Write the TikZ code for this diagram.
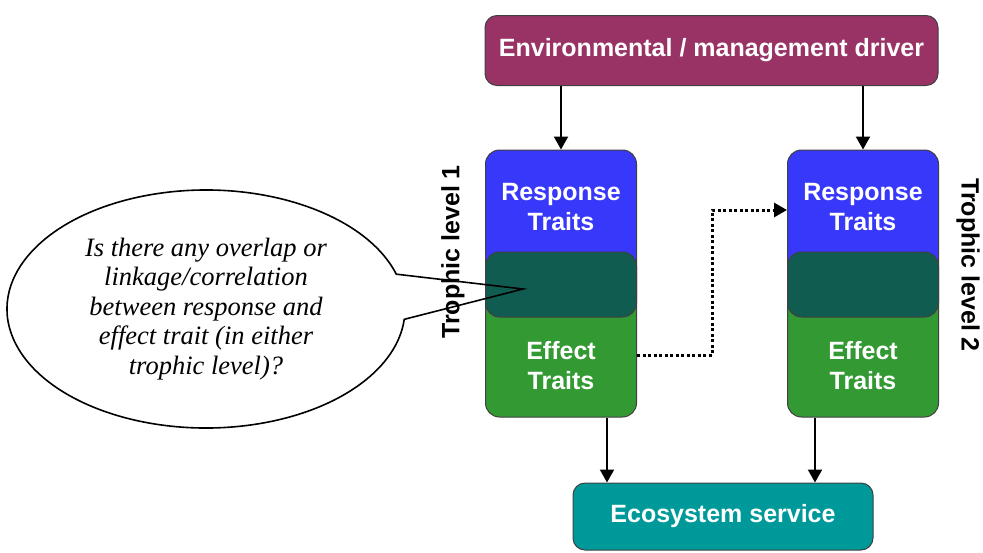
\documentclass[tikz,border=0pt]{standalone}
\usepackage{fontspec}
\setmainfont{Liberation Serif}
\setsansfont{Liberation Sans}
\usetikzlibrary{shapes.callouts,arrows.meta}
\definecolor{drivermag}{RGB}{153,51,102}
\definecolor{respblue}{RGB}{56,56,250}
\definecolor{overlapteal}{RGB}{16,92,80}
\definecolor{effgreen}{RGB}{51,153,51}
\definecolor{serviceteal}{RGB}{0,153,153}
\begin{document}
\begin{tikzpicture}[x=1pt,y=-1pt,
  bold/.style={font=\sffamily\bfseries\fontsize{25}{30}\selectfont},
  box/.style={bold, draw=black!75, line width=1pt, rounded corners=12pt,
    text=white, align=center, inner sep=0pt},
  column/.style={draw=black!75, line width=1pt, rounded corners=14pt,
    minimum width=151pt, minimum height=267pt, inner sep=0pt,
    path picture={
      \fill[respblue] (path picture bounding box.north west) rectangle (path picture bounding box.east);
      \fill[effgreen] (path picture bounding box.west) rectangle (path picture bounding box.south east);}},
  overlap/.style={draw=black!75, line width=1pt, rounded corners=14pt,
    fill=overlapteal, minimum width=151pt, minimum height=65pt},
  traits/.style={bold, text=white, align=center},
  arr/.style={line width=2.2pt, -{Triangle[length=13pt,width=14pt]}},
  dots/.style={line width=3pt, dash pattern=on 3pt off 2.5pt, -{Triangle[length=13pt,width=14pt]}}]
\useasboundingbox (0,0) rectangle (983,552);

% top and bottom boxes
\node[box, fill=drivermag, minimum width=453pt, minimum height=70pt] (driver) at (711.5,50.5) {Environmental / management driver};
\node[box, fill=serviceteal, minimum width=300pt, minimum height=67pt] (service) at (723,516.5) {Ecosystem service};

% trophic level 1
\node[column] (col1) at (561,283.5) {};
\node[overlap] (overlap1) at (561,284.5) {};
\node[traits] (resp1) at (561,207.5) {Response\\Traits};
\node[traits] (eff1) at (561,366) {Effect\\Traits};
\node[bold, rotate=90] (level1) at (453,252) {Trophic level 1};

% trophic level 2
\node[column] (col2) at (863,283.5) {};
\node[overlap] (overlap2) at (863,284.5) {};
\node[traits] (resp2) at (863,207.5) {Response\\Traits};
\node[traits] (eff2) at (863,366) {Effect\\Traits};
\node[bold, rotate=-90] (level2) at (968,265) {Trophic level 2};

% connectors
\draw[arr] (driver.south -| col1.north) -- (col1.north);
\draw[arr] (driver.south -| col2.north) -- (col2.north);
\coordinate (out1) at ([xshift=46pt]col1.south);
\coordinate (out2) at ([xshift=-48pt]col2.south);
\draw[arr] (out1) -- (out1 |- service.north);
\draw[arr] (out2) -- (out2 |- service.north);
\coordinate (from1) at ([yshift=-71.5pt]col1.east);
\coordinate (to2) at ([yshift=73.5pt]col2.west);
\draw[dots] (from1) -- ++(75,0) |- (to2);

% question bubble
\coordinate (tip) at ([xshift=-38pt,yshift=-4.5pt]overlap1.center);
\node[ellipse callout, draw, line width=1.6pt, minimum width=398pt, minimum height=238pt,
  inner sep=0pt, callout absolute pointer={(tip)}, callout pointer arc=22,
  font=\itshape\fontsize{26.5}{29.5}\selectfont, align=center] (question) at (206,309)
  {Is there any overlap or\\linkage/correlation\\between response and\\effect trait (in either\\trophic level)?};
\end{tikzpicture}
\end{document}
